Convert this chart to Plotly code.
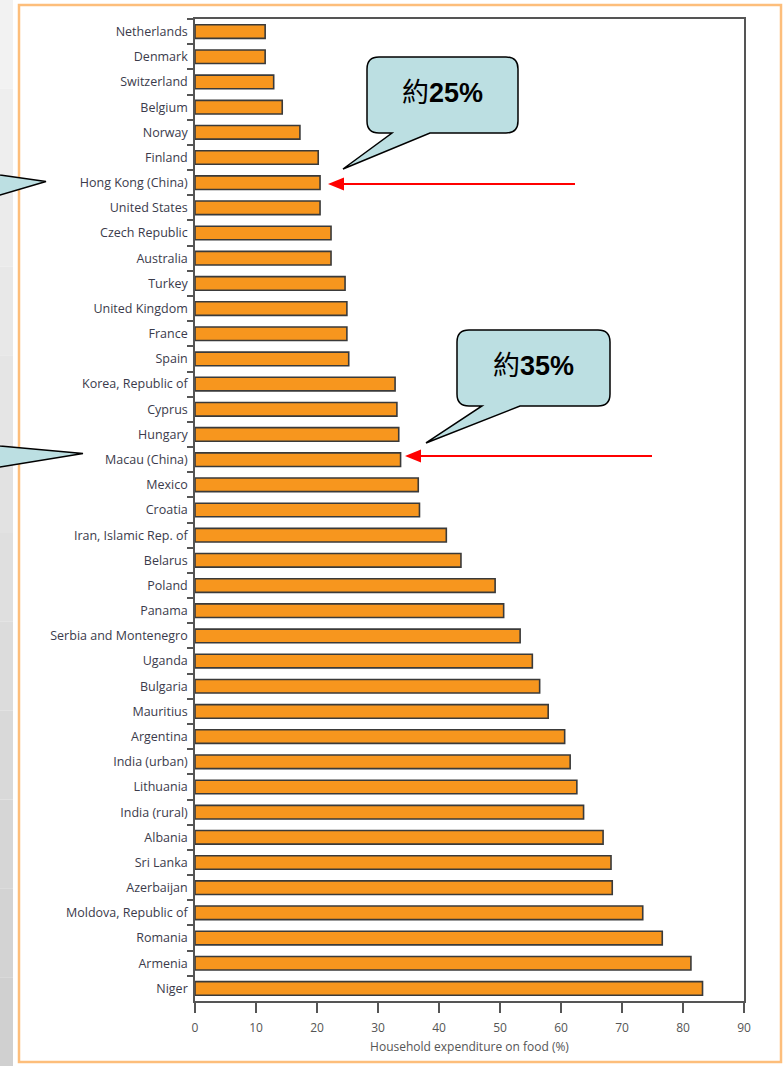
import plotly.graph_objects as go

countries = [
    "Netherlands", "Denmark", "Switzerland", "Belgium", "Norway", "Finland",
    "Hong Kong (China)", "United States", "Czech Republic", "Australia", "Turkey",
    "United Kingdom", "France", "Spain", "Korea, Republic of", "Cyprus", "Hungary",
    "Macau (China)", "Mexico", "Croatia", "Iran, Islamic Rep. of", "Belarus",
    "Poland", "Panama", "Serbia and Montenegro", "Uganda", "Bulgaria", "Mauritius",
    "Argentina", "India (urban)", "Lithuania", "India (rural)", "Albania",
    "Sri Lanka", "Azerbaijan", "Moldova, Republic of", "Romania", "Armenia", "Niger",
]
food_share = [
    11.5, 11.5, 12.9, 14.3, 17.2, 20.2,
    20.5, 20.5, 22.3, 22.3, 24.6,
    24.9, 24.9, 25.2, 32.8, 33.1, 33.4,
    33.7, 36.6, 36.8, 41.2, 43.6,
    49.2, 50.6, 53.3, 55.3, 56.5, 57.9,
    60.6, 61.5, 62.6, 63.7, 66.9,
    68.2, 68.4, 73.4, 76.6, 81.3, 83.2,
]
x_ticks = [0, 10, 20, 30, 40, 50, 60, 70, 80, 90]
x_title = "Household expenditure on food (%)"
callout_texts = ["約<b>25%</b>", "約<b>35%</b>"]

W, H = 784, 1066
PL, PR, PT, PB = 195, 744, 19, 1001


def px(x):
    return (x - PL) / (PR - PL)


def py(y):
    return (PB - y) / (PB - PT)


def pt(x, y):
    return f"{px(x):.5f},{py(y):.5f}"


def bubble(L, R, T, B, t0, t1, tip, r=12):
    d = (f"M {pt(L + r, T)} L {pt(R - r, T)} Q {pt(R, T)} {pt(R, T + r)} "
         f"L {pt(R, B - r)} Q {pt(R, B)} {pt(R - r, B)} L {pt(t1, B)} "
         f"L {pt(*tip)} L {pt(t0, B)} L {pt(L + r, B)} Q {pt(L, B)} {pt(L, B - r)} "
         f"L {pt(L, T + r)} Q {pt(L, T)} {pt(L + r, T)} Z")
    return dict(type="path", xref="paper", yref="paper", path=d,
                fillcolor="#BCDFE2", line=dict(color="#000000", width=1.5), layer="above")


def poly(points, fill, line_color=None, lw=0):
    d = "M " + " L ".join(pt(x, y) for x, y in points) + " Z"
    return dict(type="path", xref="paper", yref="paper", path=d, fillcolor=fill,
                line=dict(color=line_color or fill, width=lw), layer="above")


fig = go.Figure(go.Bar(
    x=food_share, y=countries, orientation="h", width=0.54,
    marker=dict(color="#F7961E", line=dict(color="#3a3a3a", width=1.6)),
))

shapes = []
# left grey strip (gradient)
n = 12
for i in range(n):
    g = int(0xF2 - (0xF2 - 0xD0) * i / (n - 1))
    col = f"#{g:02x}{g:02x}{g:02x}"
    shapes.append(dict(type="rect", xref="paper", yref="paper",
                       x0=px(0), x1=px(13), y0=py(H * (i + 1) / n), y1=py(H * i / n),
                       fillcolor=col, line=dict(width=0), layer="below"))
# orange frame
shapes.append(dict(type="rect", xref="paper", yref="paper",
                   x0=px(19), x1=px(781), y0=py(1062), y1=py(5),
                   line=dict(color="#FDBE7B", width=2.5), fillcolor="rgba(0,0,0,0)",
                   layer="below"))
# speech bubbles
shapes.append(bubble(367, 518, 57, 133, 392, 430, (343, 169)))
shapes.append(bubble(457, 610, 330, 406, 482, 520, (426, 443)))
# cut-off bubbles on the left
shapes.append(dict(type="path", xref="paper", yref="paper",
                   path=f"M {pt(-30, 170)} L {pt(0, 175)} L {pt(46, 181.5)} L {pt(0, 195)} L {pt(-30, 200)} Z",
                   fillcolor="#BCDFE2", line=dict(color="#000000", width=1.5), layer="above"))
shapes.append(dict(type="path", xref="paper", yref="paper",
                   path=f"M {pt(-30, 441)} L {pt(0, 446)} L {pt(83, 453.5)} L {pt(0, 467)} L {pt(-30, 472)} Z",
                   fillcolor="#BCDFE2", line=dict(color="#000000", width=1.5), layer="above"))
# red arrows
for (x_tail, x_tip, yy) in [(575, 328, 184), (652, 405, 456)]:
    shapes.append(dict(type="line", xref="paper", yref="paper",
                       x0=px(x_tail), x1=px(x_tip + 14), y0=py(yy), y1=py(yy),
                       line=dict(color="#FF0000", width=2), layer="above"))
    shapes.append(poly([(x_tip, yy), (x_tip + 16, yy - 6.5), (x_tip + 16, yy + 6.5)], "#FF0000"))

annotations = [
    dict(xref="paper", yref="paper", x=px(442.5), y=py(93), text=callout_texts[0],
         showarrow=False, xanchor="center", yanchor="middle",
         font=dict(family="Liberation Sans, Arial, Noto Sans CJK TC", size=27, color="#000")),
    dict(xref="paper", yref="paper", x=px(533.5), y=py(366), text=callout_texts[1],
         showarrow=False, xanchor="center", yanchor="middle",
         font=dict(family="Liberation Sans, Arial, Noto Sans CJK TC", size=27, color="#000")),
]

fig.update_layout(
    width=W, height=H, autosize=False,
    margin=dict(l=PL, r=W - PR, t=PT, b=H - PB, pad=0),
    paper_bgcolor="white", plot_bgcolor="white",
    showlegend=False, bargap=0.45,
    shapes=shapes, annotations=annotations,
    xaxis=dict(range=[0, 90], tickvals=x_ticks, ticktext=[str(v) for v in x_ticks],
               showline=True, mirror=True, linecolor="#555", linewidth=1.5,
               ticks="outside", ticklen=10, tickwidth=1.5, tickcolor="#555",
               ticklabelstandoff=5,
               showgrid=False, zeroline=False,
               tickfont=dict(family="Open Sans, Arial", size=12, color="#555"),
               title=dict(text=x_title, standoff=7,
                          font=dict(family="Open Sans, Arial", size=12, color="#555"))),
    yaxis=dict(type="category", categoryorder="array", categoryarray=countries,
               autorange="reversed",
               showline=True, mirror=True, linecolor="#555", linewidth=1.5,
               ticks="outside", tickson="boundaries", ticklen=6, tickwidth=1.5,
               ticklabelstandoff=3,
               tickcolor="#555", showgrid=False, zeroline=False,
               tickfont=dict(family="Open Sans, Arial", size=12.5, color="#3b3b4b")),
)

fig.write_html("out.html", config={"displayModeBar": False},
               post_script="document.body.style.margin='0px';document.body.style.overflow='hidden';")
